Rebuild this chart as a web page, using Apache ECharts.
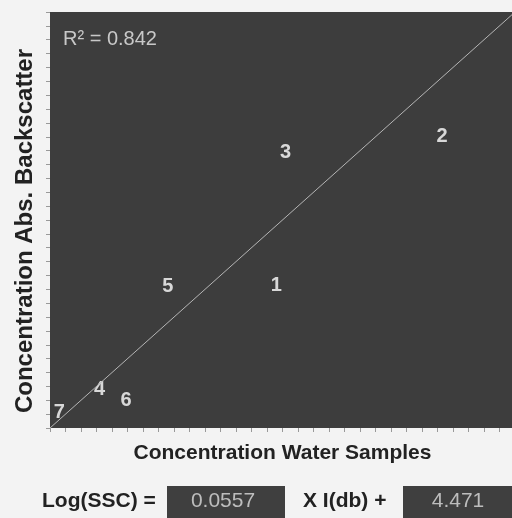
<!DOCTYPE html>
<html>
<head>
<meta charset="utf-8">
<script src="https://cdn.jsdelivr.net/npm/echarts@6/dist/echarts.min.js"></script>
<style>
  html, body { margin: 0; padding: 0; background: #f3f3f3; }
  #chart { width: 512px; height: 518px; }
</style>
</head>
<body>
<div id="chart"></div>
<script>
// sample number, concentration from water samples, concentration from backscatter
const sampleIds = ['1', '2', '3', '4', '5', '6', '7'];
const waterConc = [14.6, 25.3, 15.2, 3.2, 7.6, 4.9, 0.6];
const backscatterConc = [10.3, 21.0, 19.9, 2.8, 10.2, 2.0, 1.1];
const fitLine = [[0, 0], [30, 30]];
const rSquared = '0.842';
const slope = '0.0557';
const intercept = '4.471';

const points = sampleIds.map(function (id, i) {
  return { name: id, value: [waterConc[i], backscatterConc[i]] };
});

const chart = echarts.init(document.getElementById('chart'));

chart.setOption({
  backgroundColor: '#f3f3f3',
  animation: false,
  grid: {
    left: 50,
    top: 12,
    width: 465,
    height: 416,
    outerBoundsMode: 'none',
    containLabel: false,
    show: true,
    backgroundColor: '#3d3d3d',
    borderWidth: 0
  },
  xAxis: {
    type: 'value',
    min: 0,
    max: 30,
    interval: 1,
    name: 'Concentration Water Samples',
    nameLocation: 'middle',
    nameGap: 15,
    nameTextStyle: {
      fontFamily: 'Liberation Sans',
      fontWeight: 'bold',
      fontSize: 21,
      color: '#222'
    },
    axisLine: { show: false },
    axisTick: { show: true, length: 4, lineStyle: { color: '#999' } },
    axisLabel: { show: false },
    splitLine: { show: false }
  },
  yAxis: {
    type: 'value',
    min: 0,
    max: 30,
    interval: 1,
    name: 'Concentration Abs. Backscatter',
    nameLocation: 'middle',
    nameGap: 13,
    nameTextStyle: {
      fontFamily: 'Liberation Sans',
      fontWeight: 'bold',
      fontSize: 24,
      color: '#222',
      padding: [0, 22, 0, 0]
    },
    axisLine: { show: false },
    axisTick: { show: true, length: 4, lineStyle: { color: '#999' } },
    axisLabel: { show: false },
    splitLine: { show: false }
  },
  series: [
    {
      type: 'line',
      data: fitLine,
      symbol: 'none',
      lineStyle: { color: '#b5b5b5', width: 1 },
      silent: true
    },
    {
      type: 'scatter',
      data: points,
      symbolSize: 1,
      itemStyle: { color: 'rgba(0,0,0,0)' },
      label: {
        show: true,
        position: 'inside',
        formatter: '{b}',
        color: '#ffffff',
        fontFamily: 'Liberation Sans',
        fontWeight: 'bold',
        fontSize: 20
      }
    }
  ],
  graphic: [
    {
      type: 'text',
      x: 63,
      y: 39,
      style: {
        text: 'R\u00b2 = ' + rSquared,
        fill: '#c8c8c8',
        font: '20px "Liberation Sans"',
        verticalAlign: 'middle'
      }
    },
    {
      type: 'text',
      x: 42,
      y: 501,
      style: {
        text: 'Log(SSC) =',
        fill: '#222',
        font: 'bold 21px "Liberation Sans"',
        verticalAlign: 'middle'
      }
    },
    {
      type: 'rect',
      shape: { x: 167, y: 486, width: 118, height: 40 },
      style: { fill: '#3f3f3f' }
    },
    {
      type: 'text',
      x: 223,
      y: 501,
      style: {
        text: slope,
        fill: '#bdbdbd',
        font: '21px "Liberation Sans"',
        align: 'center',
        verticalAlign: 'middle'
      }
    },
    {
      type: 'text',
      x: 303,
      y: 501,
      style: {
        text: 'X I(db) +',
        fill: '#222',
        font: 'bold 21px "Liberation Sans"',
        verticalAlign: 'middle'
      }
    },
    {
      type: 'rect',
      shape: { x: 403, y: 486, width: 112, height: 40 },
      style: { fill: '#3f3f3f' }
    },
    {
      type: 'text',
      x: 458,
      y: 501,
      style: {
        text: intercept,
        fill: '#bdbdbd',
        font: '21px "Liberation Sans"',
        align: 'center',
        verticalAlign: 'middle'
      }
    }
  ]
});
</script>
</body>
</html>
